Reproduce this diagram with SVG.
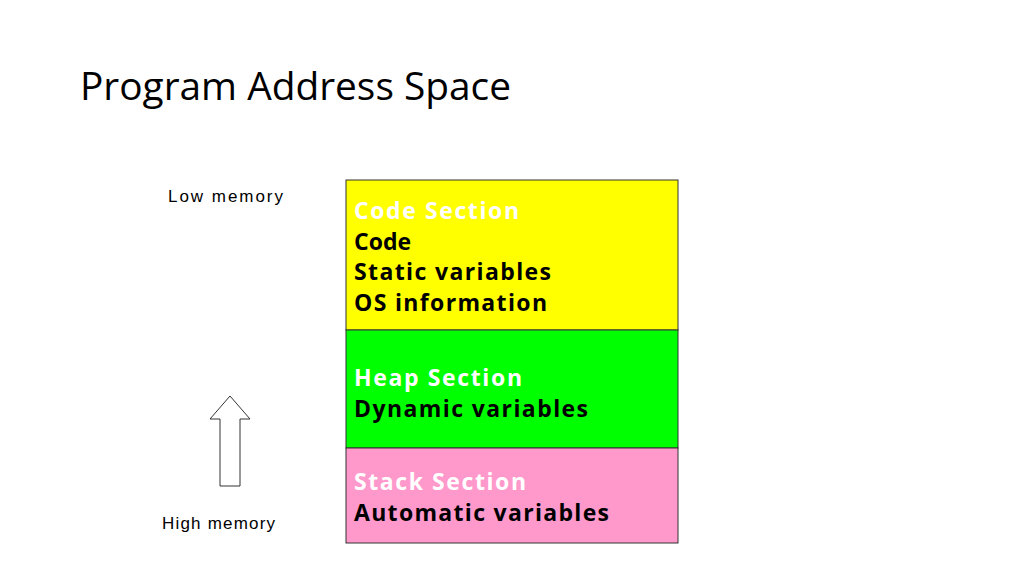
<svg xmlns="http://www.w3.org/2000/svg" width="1024" height="576" viewBox="0 0 1024 576">
<style>
.t{font-family:"Open Sans","DejaVu Sans",sans-serif;font-weight:bold;font-size:23px;fill:#000}
.w{fill:#fff}
.l{font-family:"Liberation Sans",Arial,sans-serif;font-size:17px;fill:#000}
.box{stroke:#333;stroke-width:1}
</style>
<rect width="1024" height="576" fill="#fff"/>
<text x="80" y="100" font-family="Open Sans, sans-serif" font-size="38" textLength="431" lengthAdjust="spacingAndGlyphs">Program Address Space</text>
<g id="low"><text class="l" x="168" y="202" textLength="115">Low  memory</text></g>
<g id="high"><text class="l" x="162" y="529" textLength="113">High memory</text></g>
<g id="code"><rect class="box" x="346" y="180" width="332" height="150" fill="#ffff00"/>
<text class="t w" x="354" y="219" textLength="165">Code Section</text>
<text class="t" x="354" y="250">Code</text>
<text class="t" x="354" y="280" textLength="197">Static variables</text>
<text class="t" x="354" y="311" textLength="193">OS information</text></g>
<g id="heap"><rect class="box" x="346" y="330" width="332" height="118" fill="#00ff00"/>
<text class="t w" x="354" y="386" textLength="168">Heap Section</text>
<text class="t" x="354" y="417" textLength="234">Dynamic variables</text></g>
<g id="stack"><rect class="box" x="346" y="448" width="332" height="95" fill="#ff99cc"/>
<text class="t w" x="354" y="490" textLength="172">Stack Section</text>
<text class="t" x="354" y="521" textLength="255">Automatic variables</text></g>
<g id="connectors"><polygon points="230,396 250,419 240,419 240,486 220,486 220,419 210,419" fill="#fff" stroke="#333" stroke-width="1"/></g>
</svg>
